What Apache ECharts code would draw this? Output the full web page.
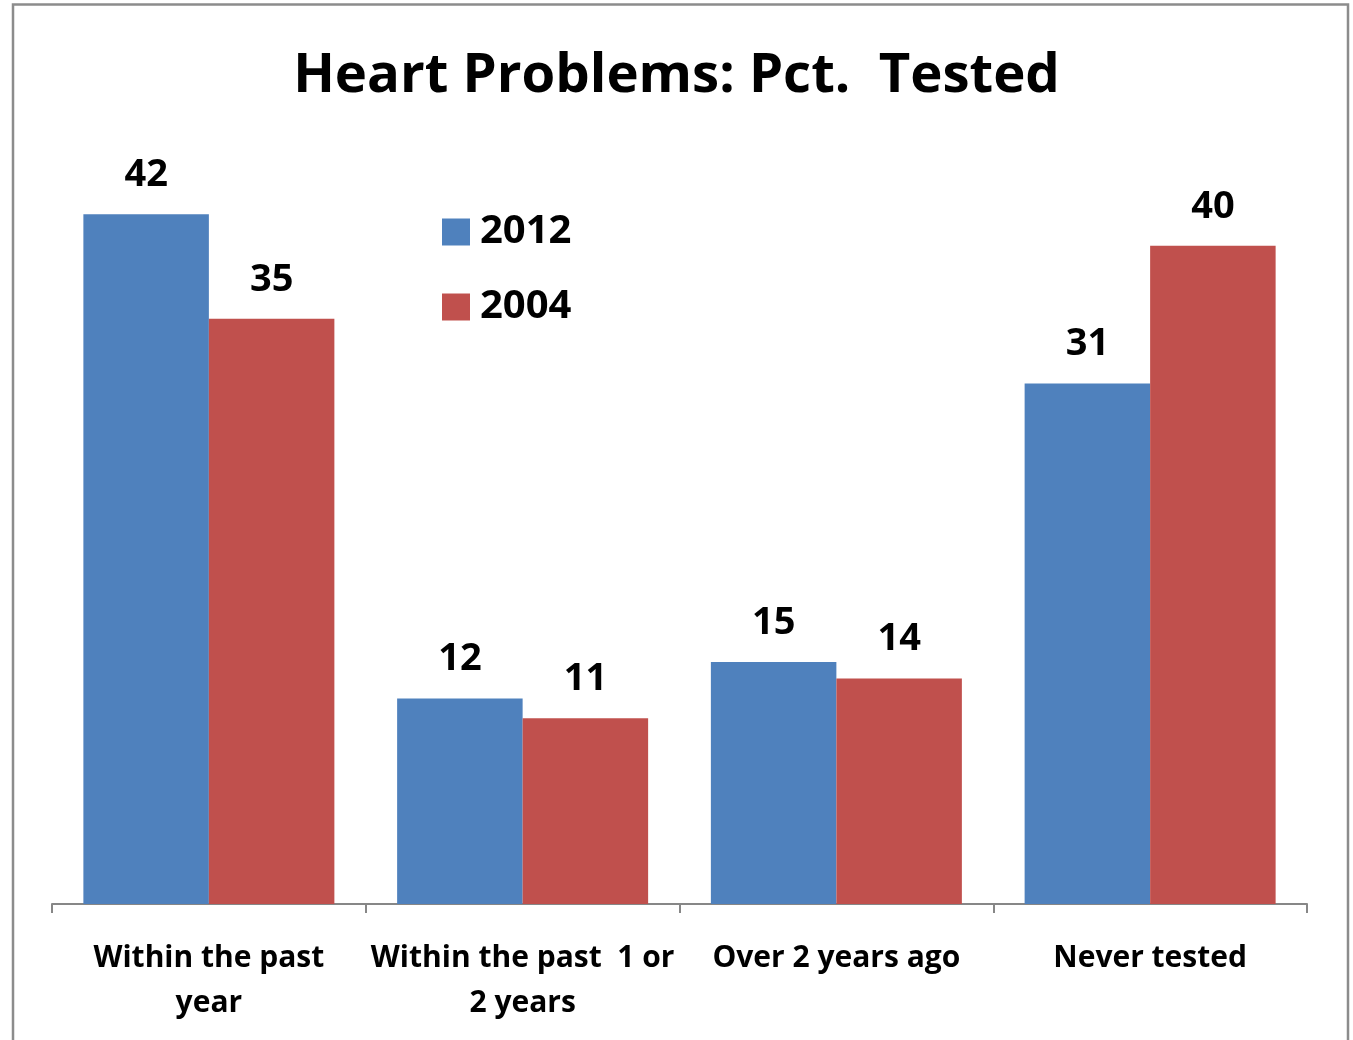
<!DOCTYPE html>
<html>
<head>
<meta charset="utf-8">
<title>Heart Problems: Pct. Tested</title>
<script src="https://cdn.jsdelivr.net/npm/echarts@6/dist/echarts.min.js"></script>
<style>
  html, body { margin: 0; padding: 0; background: #fff; }
  #chart { width: 1353px; height: 1040px; }
</style>
</head>
<body>
<div id="chart"></div>
<script>
  // categories and the two survey years
  var categories = ['Within the past\nyear', 'Within the past  1 or\n2 years', 'Over 2 years ago', 'Never tested'];
  var seriesNames = ['2012', '2004'];
  var values2012 = [41.6, 12.4, 14.6, 31.4];
  var values2004 = [35.3, 11.2, 13.6, 39.7];

  var colors = ['#4F81BD', '#C0504D'];
  var font = '"Open Sans", "Liberation Sans", sans-serif';

  var chart = echarts.init(document.getElementById('chart'));

  /*数据标签*/
  function barLabel() {
    return {
      show: true,
      position: 'top',
      distance: 20,
      color: '#000',
      fontFamily: font,
      fontWeight: 'bold',
      fontSize: 38,
      lineHeight: 38,
      formatter: function (p) { return Math.round(p.value); }
    };
  }

  var option = {
    backgroundColor: '#fff',
    animation: false,
    color: colors,
    title: {
      text: 'Heart Problems: Pct.  Tested',
      left: 'center',
      top: 36,
      padding: [5, 5, 5, 22],
      textStyle: {
        color: '#000',
        fontFamily: font,
        fontWeight: 'bold',
        fontSize: 54.5,
        lineHeight: 70
      }
    },
    legend: {
      orient: 'vertical',
      left: 437,
      top: 207,
      icon: 'rect',
      itemWidth: 28,
      itemHeight: 27,
      itemGap: 35,
      selectedMode: false,
      data: seriesNames,
      textStyle: {
        color: '#000',
        fontFamily: font,
        fontWeight: 'bold',
        fontSize: 40,
        padding: [0, 0, 0, 5]
      }
    },
    grid: {
      left: 52,
      right: 46,
      top: 158,
      bottom: 136,
      containLabel: false
    },
    xAxis: {
      type: 'category',
      data: categories,
      axisLine: { lineStyle: { color: '#878787', width: 2 } },
      axisTick: { show: true, length: 9, lineStyle: { color: '#878787', width: 2 } },
      axisLabel: {
        interval: 0,
        margin: 32,
        color: '#000',
        fontFamily: font,
        fontWeight: 'bold',
        fontSize: 30,
        lineHeight: 45
      }
    },
    yAxis: {
      type: 'value',
      min: 0,
      max: 45,
      show: false
    },
    series: [
      {
        name: seriesNames[0],
        type: 'bar',
        data: values2012,
        barGap: '0%',
        barCategoryGap: '20%',
        label: barLabel()
      },
      {
        name: seriesNames[1],
        type: 'bar',
        data: values2004,
        barGap: '0%',
        barCategoryGap: '20%',
        label: barLabel()
      }
    ],
    graphic: [
      {
        type: 'rect',
        silent: true,
        shape: { x: 13, y: 4.5, width: 1335, height: 1100 },
        style: { fill: 'none', stroke: '#8C8C8C', lineWidth: 2.5 }
      }
    ]
  };

  chart.setOption(option);
</script>
</body>
</html>
